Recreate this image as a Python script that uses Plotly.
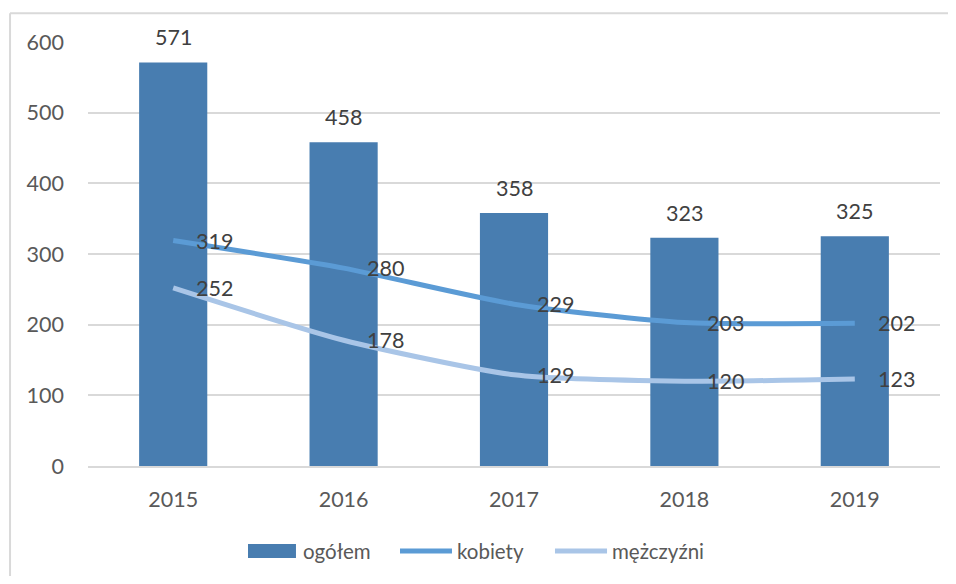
import plotly.graph_objects as go

years = ["2015", "2016", "2017", "2018", "2019"]
ogolem = [571, 458, 358, 323, 325]
kobiety = [319, 280, 229, 203, 202]
mezczyzni = [252, 178, 129, 120, 123]
y_ticks = [0, 100, 200, 300, 400, 500, 600]
series_names = ["ogółem", "kobiety", "mężczyźni"]
series_colors = ["#487db0", "#5b9bd5", "#a9c5e7"]

FONT = "Lato, 'Open Sans', sans-serif"
TICK_COLOR = "#595959"
LABEL_COLOR = "#404040"
NUM_SIZE = 21.5

fig = go.Figure()
fig.add_trace(go.Bar(
    x=years, y=ogolem, name=series_names[0],
    marker=dict(color=series_colors[0], line=dict(width=0)),
    width=0.4, showlegend=False,
))
for name, color, series in ((series_names[1], series_colors[1], kobiety),
                            (series_names[2], series_colors[2], mezczyzni)):
    fig.add_trace(go.Scatter(
        x=years, y=series, name=name, mode="lines", showlegend=False,
        line=dict(color=color, width=5, shape="spline", smoothing=0.6),
    ))

annotations = []
# bar value labels
for i, v in enumerate(ogolem):
    annotations.append(dict(
        x=i, y=v, xref="x", yref="y", text=str(v), showarrow=False,
        xanchor="center", yanchor="middle", yshift=25,
        font=dict(family=FONT, size=NUM_SIZE, color=LABEL_COLOR),
    ))
# line value labels
for series in (kobiety, mezczyzni):
    for i, v in enumerate(series):
        annotations.append(dict(
            x=i, y=v, xref="x", yref="y", text=str(v), showarrow=False,
            xanchor="left", yanchor="middle", xshift=21,
            font=dict(family=FONT, size=NUM_SIZE, color=LABEL_COLOR),
        ))

# chart-area frame (only left and top edges fall inside the picture)
BORDER = dict(color="#d9d9d9", width=2)
shapes = [
    dict(type="line", xref="paper", yref="paper", x0=-0.0915, x1=-0.0915,
         y0=-0.8, y1=1.068, line=BORDER, layer="below"),
    dict(type="line", xref="paper", yref="paper", x0=-0.0915, x1=1.6,
         y0=1.068, y1=1.068, line=BORDER, layer="below"),
]

# custom legend (wide swatches as in the reference)
LEG_Y = -0.2005
shapes.append(dict(type="rect", xref="paper", yref="paper",
                   x0=0.1878, x1=0.2441, y0=-0.217, y1=-0.184,
                   fillcolor=series_colors[0], line=dict(width=0)))
legend_text_x = [0.2500, 0.4308, 0.6127]
line_swatch_x = [None, (0.3662, 0.4272), (0.5481, 0.6092)]
for k in (1, 2):
    x0, x1 = line_swatch_x[k]
    shapes.append(dict(type="line", xref="paper", yref="paper",
                       x0=x0, x1=x1, y0=LEG_Y, y1=LEG_Y,
                       line=dict(color=series_colors[k], width=5)))
for k, name in enumerate(series_names):
    annotations.append(dict(
        x=legend_text_x[k], y=LEG_Y, xref="paper", yref="paper", text=name,
        showarrow=False, xanchor="left", yanchor="middle",
        font=dict(family=FONT, size=20.5, color=TICK_COLOR),
    ))

fig.update_layout(
    width=940, height=568,
    margin=dict(l=80, r=8, t=34, b=110),
    paper_bgcolor="white", plot_bgcolor="white",
    font=dict(family=FONT, size=NUM_SIZE, color=TICK_COLOR),
    bargap=0.6,
    showlegend=False,
    annotations=annotations,
    shapes=shapes,
    xaxis=dict(type="category", range=[-0.5, len(years) - 0.5], autorange=False,
               showgrid=False, showline=True, linecolor="#d9d9d9",
               linewidth=1.5, ticks="", ticklabelstandoff=13,
               tickfont=dict(family=FONT, size=NUM_SIZE, color=TICK_COLOR)),
    yaxis=dict(range=[0, 600], tickvals=y_ticks, showgrid=True, gridcolor="#d9d9d9",
               gridwidth=1.5, zeroline=False, showline=False, ticks="",
               ticklabelstandoff=23,
               tickfont=dict(family=FONT, size=NUM_SIZE, color=TICK_COLOR)),
)

fig.write_html("out.html")
